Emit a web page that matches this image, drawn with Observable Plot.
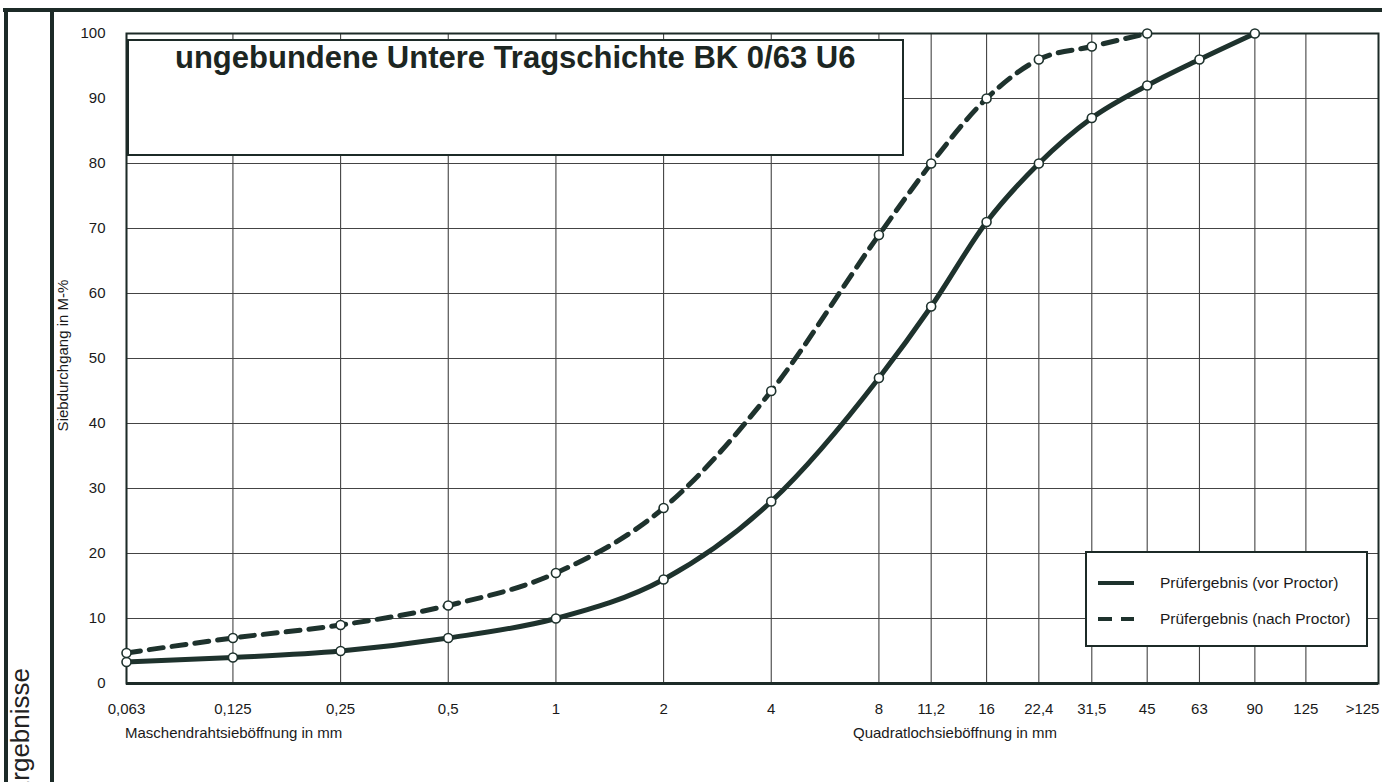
<!DOCTYPE html>
<html>
<head>
<meta charset="utf-8">
<script src="https://cdn.jsdelivr.net/npm/d3@7"></script>
<script src="https://cdn.jsdelivr.net/npm/@observablehq/plot@0.6"></script>
<style>
  html, body { margin: 0; padding: 0; background: #fff; }
  #page { position: relative; width: 1382px; height: 782px; overflow: hidden; background: #fff;
          font-family: "Liberation Sans", Arial, sans-serif; color: #1a1a1a; }
  #chart { position: absolute; left: 0; top: 0; }
  .deco { position: absolute; background: #1c2a27; }
  #titlebox { position: absolute; left: 127px; top: 39px; width: 773px; height: 113px;
              border: 2px solid #1c2a27; background: #fff; }
  #titlebox span { position: absolute; left: 46px; top: 1px; font-size: 31px; line-height: 31px;
                   font-weight: bold; color: #1c2622; white-space: nowrap; }
  #legend { position: absolute; left: 1085px; top: 551px; width: 279px; height: 92px;
            border: 2px solid #1c2a27; background: #fff; }
  .lrow { position: absolute; left: 0; height: 20px; width: 100%; }
  .lrow svg { position: absolute; left: 11px; top: 4px; }
  .lrow span { position: absolute; left: 73px; top: 1px; font-size: 15.5px; line-height: 18px; white-space: nowrap; }
  .xlab { position: absolute; font-size: 15px; line-height: 18px; white-space: nowrap; }
  #side { position: absolute; left: 33px; top: 668px; font-size: 26px; line-height: 26px; white-space: nowrap;
          transform-origin: 0 0; transform: rotate(-90deg) translate(-100%, -100%); color: #222; }
</style>
</head>
<body>
<div id="page">
  <div id="chart"></div>
  <div class="deco" style="left:3px; top:8px; width:1379px; height:4px;"></div>
  <div class="deco" style="left:4px; top:8px; width:4px; height:774px;"></div>
  <div class="deco" style="left:50px; top:8px; width:4px; height:774px;"></div>
  <div id="side">Ergebnisse</div>
  <div id="titlebox"><span id="titletext"></span></div>
  <div id="legend"></div>
  <div class="xlab" id="xlab1" style="left:125px; top:724px;"></div>
  <div class="xlab" id="xlab2" style="left:853px; top:724px;"></div>
</div>
<script>
// ---- data ----
const sieveSizes = [0.063, 0.125, 0.25, 0.5, 1, 2, 4, 8, 11.2, 16, 22.4, 31.5, 45, 63, 90, 125, 180];
const tickLabels = ["0,063", "0,125", "0,25", "0,5", "1", "2", "4", "8", "11,2", "16", "22,4", "31,5", "45", "63", "90", "125", ">125"];
const vorProctor = [3.3, 4, 5, 7, 10, 16, 28, 47, 58, 71, 80, 87, 92, 96, 100];
const nachProctor = [4.7, 7, 9, 12, 17, 27, 45, 69, 80, 90, 96, 98, 100];
const yTicks = [0, 10, 20, 30, 40, 50, 60, 70, 80, 90, 100];
const seriesNames = ["Prüfergebnis (vor Proctor)", "Prüfergebnis (nach Proctor)"];
const chartTitle = "ungebundene Untere Tragschichte BK 0/63 U6";
const yTitle = "Siebdurchgang in M-%";
const xTitleLeft = "Maschendrahtsieböffnung in mm";
const xTitleRight = "Quadratlochsieböffnung in mm";

// ---- build ----
const dark = "#1e322d";
const gridColor = "#444";
const ticks = sieveSizes.map((s, i) => ({size: s, label: tickLabels[i]}));
const gridSizes = ticks.filter(t => !t.label.startsWith(">")).map(t => t.size);
const vor = vorProctor.map((v, i) => ({size: sieveSizes[i], value: v}));
const nach = nachProctor.map((v, i) => ({size: sieveSizes[i], value: v}));

const chart = Plot.plot({
  width: 1382,
  height: 782,
  marginLeft: 126,
  marginRight: 4,
  marginTop: 33,
  marginBottom: 99,
  x: {type: "log", domain: [0.063, 199.5], axis: null},
  y: {domain: [0, 100]},
  style: {fontFamily: "'Liberation Sans', Arial, sans-serif", fontSize: "15px", color: "#1a1a1a", background: "transparent"},
  marks: [
    Plot.ruleX(gridSizes, {stroke: gridColor, strokeWidth: 1.1}),
    Plot.ruleY(yTicks, {stroke: gridColor, strokeWidth: 1.1}),
    Plot.frame({stroke: "#1c2a27", strokeWidth: 2}),
    Plot.ruleY([0], {stroke: "#1c2a27", strokeWidth: 3}),
    Plot.line(vor, {x: "size", y: "value", curve: "monotone-x", stroke: dark, strokeWidth: 5}),
    Plot.line(nach, {x: "size", y: "value", curve: "monotone-x", stroke: dark, strokeWidth: 5, strokeDasharray: "14,9"}),
    Plot.dot(vor.concat(nach), {x: "size", y: "value", r: 4.5, fill: "white", stroke: dark, strokeWidth: 1.6}),
    Plot.text(ticks, {x: "size", text: "label", frameAnchor: "bottom", dy: 26, fontSize: 15, fill: "#1a1a1a", textAnchor: "middle", lineAnchor: "middle"}),
    Plot.axisY({ticks: yTicks, tickSize: 0, tickPadding: 21, label: null, fontSize: 15}),
    Plot.text([yTitle], {frameAnchor: "left", dx: -63, rotate: -90, fontSize: 15, fill: "#1a1a1a", textAnchor: "middle", dy: -3})
  ]
});
document.getElementById("chart").append(chart);

document.getElementById("titletext").textContent = chartTitle;
document.getElementById("xlab1").textContent = xTitleLeft;
document.getElementById("xlab2").textContent = xTitleRight;

const legend = document.getElementById("legend");
seriesNames.forEach((name, i) => {
  const row = document.createElement("div");
  row.className = "lrow";
  row.style.top = (i === 0 ? 20 : 56) + "px";
  row.innerHTML = `<svg width="40" height="12"><line x1="0" x2="36" y1="6" y2="6" stroke="${dark}" stroke-width="4" ${i === 1 ? 'stroke-dasharray="14,9"' : ''}/></svg><span></span>`;
  row.querySelector("span").textContent = name;
  legend.append(row);
});
</script>
</body>
</html>
